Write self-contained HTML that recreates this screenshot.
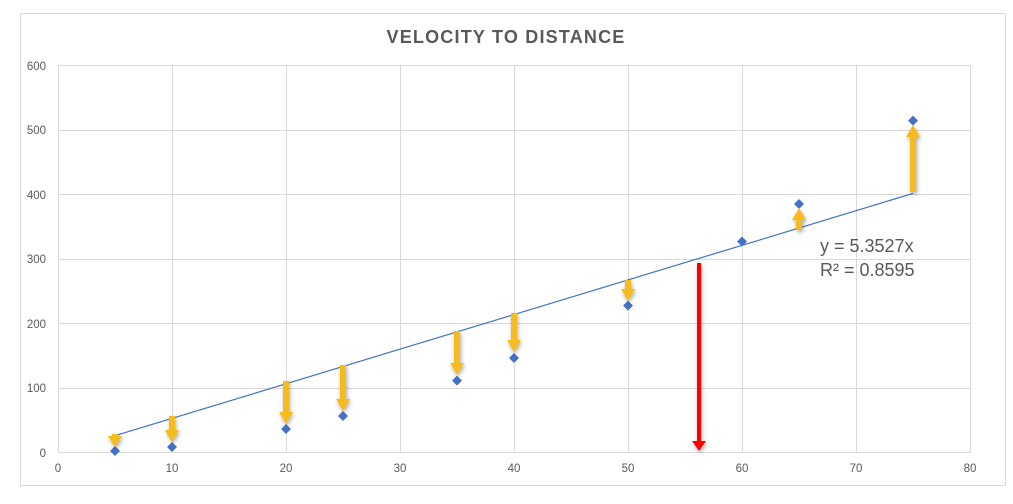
<!DOCTYPE html>
<html><head><meta charset="utf-8"><style>
html,body{margin:0;padding:0;background:#fff;}
svg{display:block;font-family:"Liberation Sans",sans-serif;}
</style></head><body>
<svg width="1013" height="504" viewBox="0 0 1013 504" xmlns="http://www.w3.org/2000/svg">
<defs><filter id="sh" x="-50%" y="-20%" width="200%" height="140%"><feGaussianBlur in="SourceAlpha" stdDeviation="2"/><feOffset dx="1" dy="2"/><feComponentTransfer><feFuncA type="linear" slope="0.35"/></feComponentTransfer><feMerge><feMergeNode/><feMergeNode in="SourceGraphic"/></feMerge></filter></defs>
<rect x="20.5" y="13.5" width="985" height="472" fill="#fff" stroke="#d9d9d9"/>
<text x="506" y="43" text-anchor="middle" font-size="18" font-weight="bold" fill="#595959" letter-spacing="1.2">VELOCITY TO DISTANCE</text>
<g stroke="#d9d9d9" stroke-width="1">
<line x1="58" y1="65.5" x2="970" y2="65.5"/><line x1="58" y1="130.5" x2="970" y2="130.5"/><line x1="58" y1="194.5" x2="970" y2="194.5"/><line x1="58" y1="259.5" x2="970" y2="259.5"/><line x1="58" y1="323.5" x2="970" y2="323.5"/><line x1="58" y1="388.5" x2="970" y2="388.5"/><line x1="58" y1="452.5" x2="970" y2="452.5"/>
<line x1="58.5" y1="65" x2="58.5" y2="453"/><line x1="172.5" y1="65" x2="172.5" y2="453"/><line x1="286.5" y1="65" x2="286.5" y2="453"/><line x1="400.5" y1="65" x2="400.5" y2="453"/><line x1="514.5" y1="65" x2="514.5" y2="453"/><line x1="628.5" y1="65" x2="628.5" y2="453"/><line x1="742.5" y1="65" x2="742.5" y2="453"/><line x1="856.5" y1="65" x2="856.5" y2="453"/><line x1="970.5" y1="65" x2="970.5" y2="453"/>
</g>
<g font-size="11.5" fill="#595959" text-anchor="end">
<text x="46" y="70">600</text><text x="46" y="134">500</text><text x="46" y="199">400</text><text x="46" y="263">300</text><text x="46" y="328">200</text><text x="46" y="392">100</text><text x="46" y="457">0</text>
</g>
<g font-size="11.5" fill="#595959" text-anchor="middle">
<text x="58" y="472">0</text><text x="172" y="472">10</text><text x="286" y="472">20</text><text x="400" y="472">30</text><text x="514" y="472">40</text><text x="628" y="472">50</text><text x="742" y="472">60</text><text x="856" y="472">70</text><text x="970" y="472">80</text>
</g>
<line x1="115" y1="435.7" x2="913" y2="193.4" stroke="#4472c4" stroke-width="1.2"/>
<g fill="#4472c4">
<path d="M115 446l5 5-5 5-5-5z"/><path d="M172 442l5 5-5 5-5-5z"/><path d="M286 424l5 5-5 5-5-5z"/><path d="M343 411l5 5-5 5-5-5z"/><path d="M457 375.6l5 5-5 5-5-5z"/><path d="M514 353l5 5-5 5-5-5z"/><path d="M628 300.6l5 5-5 5-5-5z"/><path d="M742 236.5l5 5-5 5-5-5z"/><path d="M799 199l5 5-5 5-5-5z"/><path d="M913 115.6l5 5-5 5-5-5z"/>
</g>
<g fill="#f6bb1f" filter="url(#sh)">
<path d="M112 434h6v2h4l-7 11-7-11h4z"/>
<path d="M169 416h6v14h4l-7 12-7-12h4z"/>
<path d="M283 381h6v31h4l-7 12-7-12h4z"/>
<path d="M340 365h6v34h4l-7 12-7-12h4z"/>
<path d="M454 331h6v32h4l-7 12-7-12h4z"/>
<path d="M511 313h6v27h4l-7 12-7-12h4z"/>
<path d="M625 280h6v9h4l-7 12-7-12h4z"/>
<path d="M796 230h6v-10h4l-7-12-7 12h4z"/>
<path d="M910 192h6v-55h4l-7-12-7 12h4z"/>
</g>
<g fill="#ff0000" filter="url(#sh)">
<path d="M697 263h4v178h5l-7 10-7-10h5z"/>
</g>
<text x="820" y="252" font-size="18" fill="#595959">y = 5.3527x</text>
<text x="820" y="276" font-size="18" fill="#595959">R² = 0.8595</text>
</svg>
</body></html>
